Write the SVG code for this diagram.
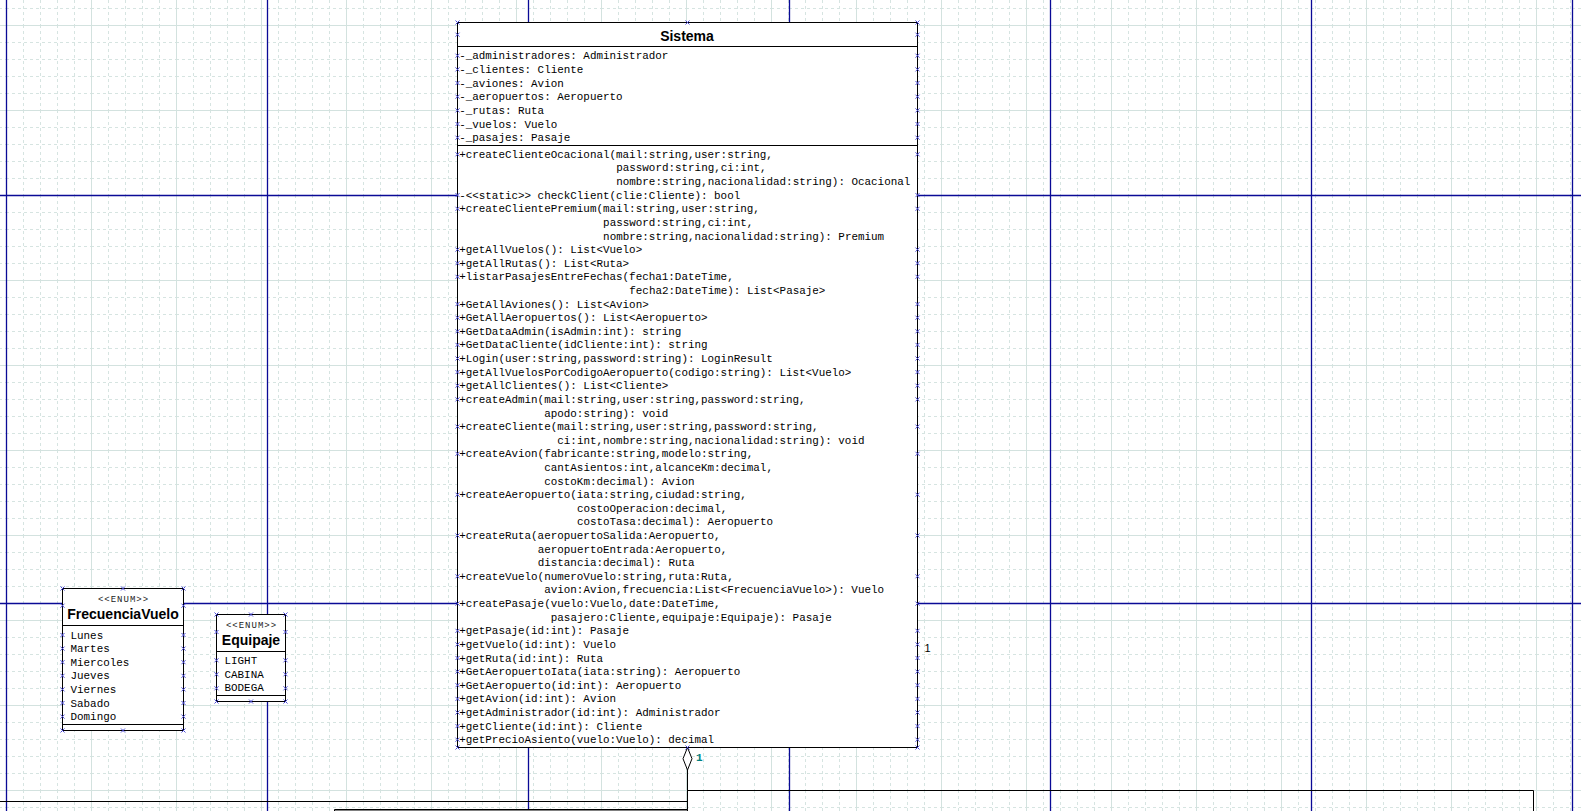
<svg xmlns="http://www.w3.org/2000/svg" xmlns:xlink="http://www.w3.org/1999/xlink" width="1581" height="811" viewBox="0 0 1581 811">
<style>
.m{font-family:"Liberation Mono","DejaVu Sans Mono",monospace;font-size:10.9px;fill:#000}
.t{font-family:"Liberation Sans",Arial,sans-serif;font-size:14px;font-weight:bold;fill:#000;text-anchor:middle}
.st{font-family:"Liberation Mono",monospace;font-size:9px;letter-spacing:1px;fill:#222;text-anchor:middle}
.box{fill:#fff;stroke:#000;stroke-width:1}
.sep{stroke:#000;stroke-width:1;fill:none}
.pg{stroke:#0a0a96;stroke-width:1.3;fill:none}
</style>
<defs>
<pattern id="grid" x="6" y="25" width="85" height="85" patternUnits="userSpaceOnUse">
<path d="M17.5,0V85M34.5,0V85M51.5,0V85M68.5,0V85M0,17.5H85M0,34.5H85M0,51.5H85M0,68.5H85" stroke="#d6e4e1" stroke-width="1" stroke-dasharray="3 3" fill="none"/>
<path d="M0.5,0V85M0,0.5H85" stroke="#d3e2df" stroke-width="1" fill="none"/>
</pattern>
<path id="xm" d="M-2,-2L2,2M-2,2L2,-2" stroke="#4b4bd6" stroke-width="1" fill="none"/>
</defs>
<rect x="0" y="0" width="1581" height="811" fill="#fff"/>
<rect x="0" y="0" width="1581" height="811" fill="url(#grid)"/>
<g id="pages">
<path class="pg" d="M6.5,0V811M267.5,0V811M528.5,0V811M789.5,0V811M1050.5,0V811M1311.5,0V811M1572.5,0V811M0,195.5H1581M0,603.5H1581"/>
</g>
<g id="connectors" fill="none" stroke="#000" stroke-width="1">
<path d="M687.5,770V811"/>
<path d="M687.5,790.5H1533.5V811"/>
<path d="M0,801.5H687.5"/>
<path d="M687.5,747.5L692,758.7L687.5,770L683,758.7Z" fill="#fff"/>
<text x="696" y="761" stroke="none" font-family="Liberation Mono,monospace" font-size="11px" font-weight="bold" fill="#008080">1</text>
<text x="924.5" y="651.5" stroke="none" font-family="Liberation Sans,Arial,sans-serif" font-size="11px" fill="#000">1</text>
</g>
<g id="node-bottom">
<path d="M334.5,811V809.5H687.5V811Z" fill="#fff" stroke="#000" stroke-width="1"/>
</g>
<g id="sistema">
<rect class="box" x="457.5" y="22.5" width="460" height="725"/>
<path class="sep" d="M457.5,46.5H917.5M457.5,145.5H917.5"/>
<text class="t" x="687" y="40.5">Sistema</text>
<text class="m" x="459.2" y="59.2">-_administradores: Administrador</text>
<text class="m" x="459.2" y="72.9">-_clientes: Cliente</text>
<text class="m" x="459.2" y="86.5">-_aviones: Avion</text>
<text class="m" x="459.2" y="100.2">-_aeropuertos: Aeropuerto</text>
<text class="m" x="459.2" y="113.9">-_rutas: Ruta</text>
<text class="m" x="459.2" y="127.5">-_vuelos: Vuelo</text>
<text class="m" x="459.2" y="141.2">-_pasajes: Pasaje</text>
<text class="m" x="459.2" y="157.8">+createClienteOcacional(mail:string,user:string,</text>
<text class="m" x="616.2" y="171.4">password:string,ci:int,</text>
<text class="m" x="616.2" y="185.0">nombre:string,nacionalidad:string): Ocacional</text>
<text class="m" x="459.2" y="198.6">-&lt;&lt;static&gt;&gt; checkClient(clie:Cliente): bool</text>
<text class="m" x="459.2" y="212.3">+createClientePremium(mail:string,user:string,</text>
<text class="m" x="603.1" y="225.9">password:string,ci:int,</text>
<text class="m" x="603.1" y="239.5">nombre:string,nacionalidad:string): Premium</text>
<text class="m" x="459.2" y="253.1">+getAllVuelos(): List&lt;Vuelo&gt;</text>
<text class="m" x="459.2" y="266.7">+getAllRutas(): List&lt;Ruta&gt;</text>
<text class="m" x="459.2" y="280.3">+listarPasajesEntreFechas(fecha1:DateTime,</text>
<text class="m" x="629.3" y="293.9">fecha2:DateTime): List&lt;Pasaje&gt;</text>
<text class="m" x="459.2" y="307.6">+GetAllAviones(): List&lt;Avion&gt;</text>
<text class="m" x="459.2" y="321.2">+GetAllAeropuertos(): List&lt;Aeropuerto&gt;</text>
<text class="m" x="459.2" y="334.8">+GetDataAdmin(isAdmin:int): string</text>
<text class="m" x="459.2" y="348.4">+GetDataCliente(idCliente:int): string</text>
<text class="m" x="459.2" y="362.0">+Login(user:string,password:string): LoginResult</text>
<text class="m" x="459.2" y="375.6">+getAllVuelosPorCodigoAeropuerto(codigo:string): List&lt;Vuelo&gt;</text>
<text class="m" x="459.2" y="389.2">+getAllClientes(): List&lt;Cliente&gt;</text>
<text class="m" x="459.2" y="402.9">+createAdmin(mail:string,user:string,password:string,</text>
<text class="m" x="544.2" y="416.5">apodo:string): void</text>
<text class="m" x="459.2" y="430.1">+createCliente(mail:string,user:string,password:string,</text>
<text class="m" x="557.3" y="443.7">ci:int,nombre:string,nacionalidad:string): void</text>
<text class="m" x="459.2" y="457.3">+createAvion(fabricante:string,modelo:string,</text>
<text class="m" x="544.2" y="470.9">cantAsientos:int,alcanceKm:decimal,</text>
<text class="m" x="544.2" y="484.5">costoKm:decimal): Avion</text>
<text class="m" x="459.2" y="498.2">+createAeropuerto(iata:string,ciudad:string,</text>
<text class="m" x="576.9" y="511.8">costoOperacion:decimal,</text>
<text class="m" x="576.9" y="525.4">costoTasa:decimal): Aeropuerto</text>
<text class="m" x="459.2" y="539.0">+createRuta(aeropuertoSalida:Aeropuerto,</text>
<text class="m" x="537.7" y="552.6">aeropuertoEntrada:Aeropuerto,</text>
<text class="m" x="537.7" y="566.2">distancia:decimal): Ruta</text>
<text class="m" x="459.2" y="579.8">+createVuelo(numeroVuelo:string,ruta:Ruta,</text>
<text class="m" x="544.2" y="593.4">avion:Avion,frecuencia:List&lt;FrecuenciaVuelo&gt;): Vuelo</text>
<text class="m" x="459.2" y="607.1">+createPasaje(vuelo:Vuelo,date:DateTime,</text>
<text class="m" x="550.8" y="620.7">pasajero:Cliente,equipaje:Equipaje): Pasaje</text>
<text class="m" x="459.2" y="634.3">+getPasaje(id:int): Pasaje</text>
<text class="m" x="459.2" y="647.9">+getVuelo(id:int): Vuelo</text>
<text class="m" x="459.2" y="661.5">+getRuta(id:int): Ruta</text>
<text class="m" x="459.2" y="675.1">+GetAeropuertoIata(iata:string): Aeropuerto</text>
<text class="m" x="459.2" y="688.7">+GetAeropuerto(id:int): Aeropuerto</text>
<text class="m" x="459.2" y="702.4">+getAvion(id:int): Avion</text>
<text class="m" x="459.2" y="716.0">+getAdministrador(id:int): Administrador</text>
<text class="m" x="459.2" y="729.6">+getCliente(id:int): Cliente</text>
<text class="m" x="459.2" y="743.2">+getPrecioAsiento(vuelo:Vuelo): decimal</text>
<g id="sistema-handles">
<use href="#xm" x="457.5" y="22.5"/><use href="#xm" x="687.5" y="22.5"/><use href="#xm" x="917.5" y="22.5"/>
<use href="#xm" x="457.5" y="747.5"/><use href="#xm" x="687.5" y="747.5"/><use href="#xm" x="917.5" y="747.5"/>
<use href="#xm" x="457.5" y="34.7"/><use href="#xm" x="917.5" y="34.7"/>
<use href="#xm" x="457.5" y="55.7"/><use href="#xm" x="917.5" y="55.7"/>
<use href="#xm" x="457.5" y="69.4"/><use href="#xm" x="917.5" y="69.4"/>
<use href="#xm" x="457.5" y="83.0"/><use href="#xm" x="917.5" y="83.0"/>
<use href="#xm" x="457.5" y="96.7"/><use href="#xm" x="917.5" y="96.7"/>
<use href="#xm" x="457.5" y="110.4"/><use href="#xm" x="917.5" y="110.4"/>
<use href="#xm" x="457.5" y="124.0"/><use href="#xm" x="917.5" y="124.0"/>
<use href="#xm" x="457.5" y="137.7"/><use href="#xm" x="917.5" y="137.7"/>
<use href="#xm" x="457.5" y="154.3"/><use href="#xm" x="917.5" y="154.3"/>
<use href="#xm" x="457.5" y="195.1"/><use href="#xm" x="917.5" y="195.1"/>
<use href="#xm" x="457.5" y="208.8"/><use href="#xm" x="917.5" y="208.8"/>
<use href="#xm" x="457.5" y="249.6"/><use href="#xm" x="917.5" y="249.6"/>
<use href="#xm" x="457.5" y="263.2"/><use href="#xm" x="917.5" y="263.2"/>
<use href="#xm" x="457.5" y="276.8"/><use href="#xm" x="917.5" y="276.8"/>
<use href="#xm" x="457.5" y="304.1"/><use href="#xm" x="917.5" y="304.1"/>
<use href="#xm" x="457.5" y="317.7"/><use href="#xm" x="917.5" y="317.7"/>
<use href="#xm" x="457.5" y="331.3"/><use href="#xm" x="917.5" y="331.3"/>
<use href="#xm" x="457.5" y="344.9"/><use href="#xm" x="917.5" y="344.9"/>
<use href="#xm" x="457.5" y="358.5"/><use href="#xm" x="917.5" y="358.5"/>
<use href="#xm" x="457.5" y="372.1"/><use href="#xm" x="917.5" y="372.1"/>
<use href="#xm" x="457.5" y="385.7"/><use href="#xm" x="917.5" y="385.7"/>
<use href="#xm" x="457.5" y="399.4"/><use href="#xm" x="917.5" y="399.4"/>
<use href="#xm" x="457.5" y="426.6"/><use href="#xm" x="917.5" y="426.6"/>
<use href="#xm" x="457.5" y="453.8"/><use href="#xm" x="917.5" y="453.8"/>
<use href="#xm" x="457.5" y="494.7"/><use href="#xm" x="917.5" y="494.7"/>
<use href="#xm" x="457.5" y="535.5"/><use href="#xm" x="917.5" y="535.5"/>
<use href="#xm" x="457.5" y="576.3"/><use href="#xm" x="917.5" y="576.3"/>
<use href="#xm" x="457.5" y="603.6"/><use href="#xm" x="917.5" y="603.6"/>
<use href="#xm" x="457.5" y="630.8"/><use href="#xm" x="917.5" y="630.8"/>
<use href="#xm" x="457.5" y="644.4"/><use href="#xm" x="917.5" y="644.4"/>
<use href="#xm" x="457.5" y="658.0"/><use href="#xm" x="917.5" y="658.0"/>
<use href="#xm" x="457.5" y="671.6"/><use href="#xm" x="917.5" y="671.6"/>
<use href="#xm" x="457.5" y="685.2"/><use href="#xm" x="917.5" y="685.2"/>
<use href="#xm" x="457.5" y="698.9"/><use href="#xm" x="917.5" y="698.9"/>
<use href="#xm" x="457.5" y="712.5"/><use href="#xm" x="917.5" y="712.5"/>
<use href="#xm" x="457.5" y="726.1"/><use href="#xm" x="917.5" y="726.1"/>
<use href="#xm" x="457.5" y="739.7"/><use href="#xm" x="917.5" y="739.7"/>
</g>
</g>
<g id="frecuenciavuelo">
<rect class="box" x="62.5" y="588.5" width="121" height="142"/>
<path class="sep" d="M62.5,625.5H183.5M62.5,724.5H183.5"/>
<text class="st" x="123.5" y="601.7">&lt;&lt;ENUM&gt;&gt;</text>
<text class="t" x="123" y="619.3">FrecuenciaVuelo</text>
<text class="m" x="70.5" y="638.5">Lunes</text>
<text class="m" x="70.5" y="652.1">Martes</text>
<text class="m" x="70.5" y="665.7">Miercoles</text>
<text class="m" x="70.5" y="679.3">Jueves</text>
<text class="m" x="70.5" y="692.9">Viernes</text>
<text class="m" x="70.5" y="706.5">Sabado</text>
<text class="m" x="70.5" y="720.1">Domingo</text>
<use href="#xm" x="62.5" y="588.5"/><use href="#xm" x="123" y="588.5"/><use href="#xm" x="183.5" y="588.5"/>
<use href="#xm" x="62.5" y="730.5"/><use href="#xm" x="123" y="730.5"/><use href="#xm" x="183.5" y="730.5"/>
<use href="#xm" x="62.5" y="605.7"/><use href="#xm" x="183.5" y="605.7"/>
<use href="#xm" x="62.5" y="635"/><use href="#xm" x="183.5" y="635"/>
<use href="#xm" x="62.5" y="648.6"/><use href="#xm" x="183.5" y="648.6"/>
<use href="#xm" x="62.5" y="662.2"/><use href="#xm" x="183.5" y="662.2"/>
<use href="#xm" x="62.5" y="675.8"/><use href="#xm" x="183.5" y="675.8"/>
<use href="#xm" x="62.5" y="689.4"/><use href="#xm" x="183.5" y="689.4"/>
<use href="#xm" x="62.5" y="703"/><use href="#xm" x="183.5" y="703"/>
<use href="#xm" x="62.5" y="716.6"/><use href="#xm" x="183.5" y="716.6"/>
</g>
<g id="equipaje">
<rect class="box" x="216.5" y="614.5" width="69" height="87"/>
<path class="sep" d="M216.5,651.5H285.5M216.5,695.5H285.5"/>
<text class="st" x="251.5" y="628.3">&lt;&lt;ENUM&gt;&gt;</text>
<text class="t" x="251" y="645">Equipaje</text>
<text class="m" x="224.5" y="663.8">LIGHT</text>
<text class="m" x="224.5" y="677.6">CABINA</text>
<text class="m" x="224.5" y="691.4">BODEGA</text>
<use href="#xm" x="216.5" y="614.5"/><use href="#xm" x="251" y="614.5"/><use href="#xm" x="285.5" y="614.5"/>
<use href="#xm" x="216.5" y="701.5"/><use href="#xm" x="251" y="701.5"/><use href="#xm" x="285.5" y="701.5"/>
<use href="#xm" x="216.5" y="632"/><use href="#xm" x="285.5" y="632"/>
<use href="#xm" x="216.5" y="660.3"/><use href="#xm" x="285.5" y="660.3"/>
<use href="#xm" x="216.5" y="674.3"/><use href="#xm" x="285.5" y="674.3"/>
<use href="#xm" x="216.5" y="688.3"/><use href="#xm" x="285.5" y="688.3"/>
</g>
</svg>
